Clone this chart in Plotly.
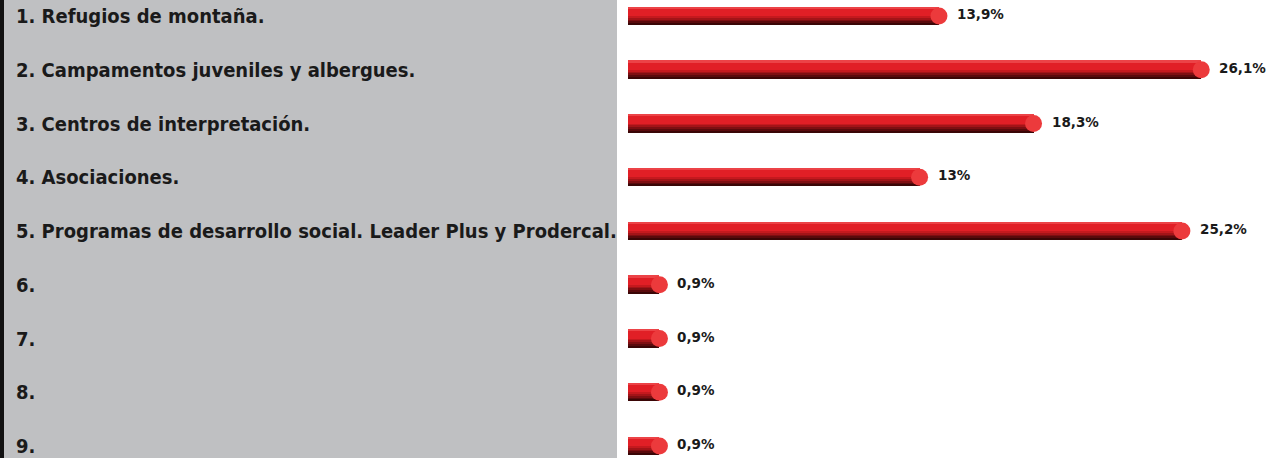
import plotly.graph_objects as go

categories = [
    "1. Refugios de montaña.",
    "2. Campamentos juveniles y albergues.",
    "3. Centros de interpretación.",
    "4. Asociaciones.",
    "5. Programas de desarrollo social. Leader Plus y Prodercal.",
    "6.",
    "7.",
    "8.",
    "9.",
]
values = [13.9, 26.1, 18.3, 13.0, 25.2, 0.9, 0.9, 0.9, 0.9]
value_labels = ["13,9%", "26,1%", "18,3%", "13%", "25,2%", "0,9%", "0,9%", "0,9%", "0,9%"]

W, H = 1285, 458
PX_PER_UNIT = 21.5
ZERO_PX = 640.1
ROW0_PX = 16
ROW_PX = 53.75
BAR_BASE = -0.56
THICK = 18 / ROW_PX

ypos = list(range(len(categories)))

fig = go.Figure()

# layered bands to fake a cylinder gradient (top bright -> bottom dark)
bands = [
    (1.00, "#3a0606"),
    (0.90, "#5a0a0c"),
    (0.80, "#7e0f12"),
    (0.70, "#a31418"),
    (0.60, "#c5191e"),
    (0.50, "#e11f26"),
    (0.10, "#ec4347"),
]
for frac, col in bands:
    fig.add_trace(go.Bar(
        y=ypos, x=[v - BAR_BASE for v in values], base=BAR_BASE,
        orientation="h", width=THICK * frac, offset=-THICK / 2,
        marker=dict(color=col, line=dict(width=0)),
        hoverinfo="skip", showlegend=False,
    ))

# end caps
fig.add_trace(go.Scatter(
    x=values, y=ypos, mode="markers",
    marker=dict(symbol="circle", size=17, color="#ec3a3c", line=dict(width=0)),
    hoverinfo="skip", showlegend=False,
))

x0 = -ZERO_PX / PX_PER_UNIT
x1 = (W - ZERO_PX) / PX_PER_UNIT
y_top = -ROW0_PX / ROW_PX
y_bot = (H - ROW0_PX) / ROW_PX

annotations = []
for i, (cat, v, lab) in enumerate(zip(categories, values, value_labels)):
    annotations.append(dict(
        xref="paper", yref="y", x=14 / W, y=i, text=cat, showarrow=False,
        xanchor="left", yanchor="middle", yshift=0,
        font=dict(family="DejaVu Sans Condensed", size=20,
                  color="#1a1a1a", weight="bold"),
    ))
    annotations.append(dict(
        xref="x", yref="y", x=v, y=i, text=lab, showarrow=False,
        xanchor="left", yanchor="middle", xshift=16, yshift=2,
        font=dict(family="DejaVu Sans", size=13.5, color="#1a1a1a", weight="bold"),
    ))

shapes = [
    dict(type="rect", xref="paper", yref="paper", x0=0, x1=617 / W, y0=0, y1=1,
         fillcolor="#bfc0c2", line=dict(width=0), layer="below"),
    dict(type="rect", xref="paper", yref="paper", x0=0, x1=4 / W, y0=0, y1=1,
         fillcolor="#111111", line=dict(width=0), layer="below"),
]

fig.update_layout(
    width=W, height=H, margin=dict(l=0, r=0, t=0, b=0),
    paper_bgcolor="white", plot_bgcolor="rgba(0,0,0,0)",
    barmode="overlay", bargap=0,
    xaxis=dict(range=[x0, x1], domain=[0, 1], visible=False, fixedrange=True),
    yaxis=dict(range=[y_bot, y_top], visible=False, fixedrange=True),
    annotations=annotations, shapes=shapes,
)

fig.write_html(
    "out.html",
    config={"displayModeBar": False},
    post_script="document.body.style.margin='0';document.body.style.overflow='hidden';",
)
